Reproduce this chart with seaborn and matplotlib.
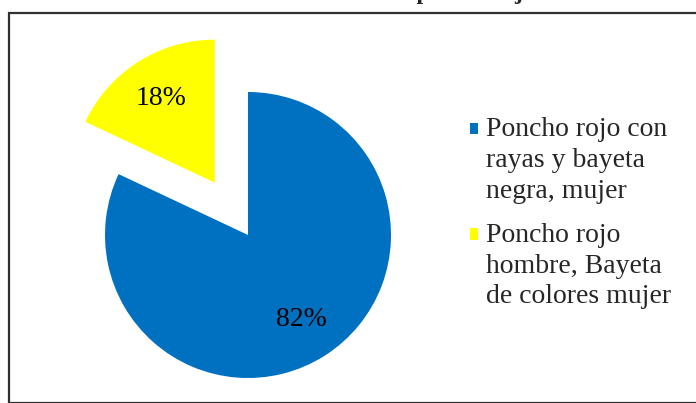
import seaborn as sns
import matplotlib.pyplot as plt
from matplotlib.patches import Rectangle
from matplotlib.legend_handler import HandlerPatch

sns.set_theme(style="white")
plt.rcParams['font.family'] = ['Liberation Serif', 'DejaVu Serif']

# datos
categorias = ['Poncho rojo con\nrayas y bayeta\nnegra, mujer',
              'Poncho rojo\nhombre, Bayeta\nde colores mujer']
porcentajes = [82, 18]
colores = sns.color_palette(['#0070C0', '#FFFF00'])
titulo = 'Vestimenta utilizada por la mujer'

W, H = 696, 403
fig = plt.figure(figsize=(W / 100, H / 100), dpi=100)
ax = fig.add_axes([0, 0, 1, 1])

wedges, textos, autotextos = ax.pie(
    porcentajes, colors=colores, startangle=90, counterclock=False,
    explode=[0, 62], radius=143, center=(248, H - 235),
    autopct='%1.0f%%', pctdistance=0.7,
    wedgeprops={'linewidth': 0},
    textprops={'fontsize': 20, 'color': 'black'})
ax.set_xlim(0, W)
ax.set_ylim(0, H)
ax.set_aspect('equal')
ax.axis('off')

# marco del grafico
fig.patches.append(Rectangle((8.5 / W, 0), 1.2, 1 - 13 / H, transform=fig.transFigure,
                             fill=False, edgecolor='#303030', linewidth=1.6))

fig.text(374 / W, 1 + 1 / H, titulo, ha='center', va='baseline',
         fontsize=17, fontweight='bold')


# cuadrito de la leyenda alineado con la primera linea
def cuadro(legend, orig_handle, xdescent, ydescent, width, height, fontsize):
    return Rectangle((-xdescent, -ydescent + 22.5), width, height)


leg = ax.legend(wedges, categorias, loc='upper left',
                bbox_to_anchor=(470 / W, 1 - 117 / H), bbox_transform=fig.transFigure,
                frameon=False, fontsize=20, handlelength=0.27, handleheight=0.27,
                handletextpad=0.3, labelspacing=0.68, borderpad=0, borderaxespad=0,
                handler_map={w: HandlerPatch(patch_func=cuadro) for w in wedges})
for t in leg.get_texts():
    t.set_linespacing(1.31)

fig.savefig('out.png', dpi=100)
